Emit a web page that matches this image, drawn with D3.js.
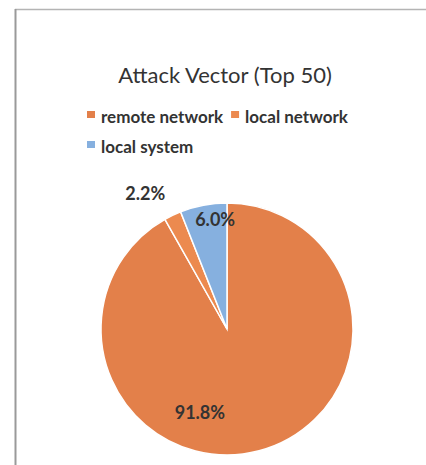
<!DOCTYPE html>
<html lang="en">
<head>
    <meta charset="UTF-8">
    <script src="https://cdn.jsdelivr.net/npm/d3@7"></script>
    <title>Attack Vector (Top 50)</title>
    <style>
        body { margin: 0; background: #ffffff; overflow: hidden; }
        svg { display: block; }
    </style>
</head>
<body>
    <div id="chart"></div>
    <script>
        // data
        const categories = ["remote network", "local network", "local system"];
        const shares = [91.8, 2.2, 6.0];
        const colors = ["#e3804a", "#ec8a4f", "#86b0df"];

        const w = 426, h = 465;
        const cx = 227, cy = 329, radius = 126;

        const svg = d3.select("#chart")
            .append("svg")
            .attr("width", w)
            .attr("height", h);

        // scanned frame edges
        svg.append("line")
            .attr("x1", 15).attr("x2", w)
            .attr("y1", 9.5).attr("y2", 9.5)
            .attr("stroke", "#b4b4b4").attr("stroke-width", 1.5);
        svg.append("line")
            .attr("x1", 15.5).attr("x2", 15.5)
            .attr("y1", 9).attr("y2", h)
            .attr("stroke", "#9a9a9a").attr("stroke-width", 2);

        // title
        svg.append("text")
            .attr("x", 225)
            .attr("y", 83)
            .attr("text-anchor", "middle")
            .attr("font-family", "Lato, sans-serif")
            .attr("font-size", "22px")
            .attr("fill", "#333333")
            .text("Attack Vector (Top 50)");

        // legend: two rows, items placed after the previous text
        const legendRows = [[0, 1], [2]];
        const legendY = [123, 153];
        legendRows.forEach((row, r) => {
            let x = 87;
            row.forEach(i => {
                svg.append("rect")
                    .attr("x", x).attr("y", legendY[r] - 12)
                    .attr("width", 8).attr("height", 7)
                    .attr("fill", colors[i]);
                const t = svg.append("text")
                    .attr("x", x + 14)
                    .attr("y", legendY[r])
                    .attr("font-family", "Lato, sans-serif")
                    .attr("font-weight", "bold")
                    .attr("font-size", "17px")
                    .attr("fill", "#333333")
                    .text(categories[i]);
                x += 14 + t.node().getComputedTextLength() + 8;
            });
        });

        // pie, clockwise from 12 o'clock
        const pie = d3.pie().sort(null).value(d => d);
        const arcs = pie(shares);
        const arc = d3.arc().innerRadius(0).outerRadius(radius);

        const g = svg.append("g")
            .attr("transform", `translate(${cx},${cy})`);

        g.selectAll("path")
            .data(arcs)
            .enter()
            .append("path")
            .attr("d", arc)
            .attr("fill", (d, i) => colors[i])
            .attr("stroke", "#ffffff")
            .attr("stroke-width", 1.5);

        // data labels (radius factor and angle shift mimic Excel's best fit)
        const labelR = [0.7, 1.25, 0.87];
        const labelShift = [0.57, -0.1, 0.08];
        g.selectAll("text.label")
            .data(arcs)
            .enter()
            .append("text")
            .attr("class", "label")
            .attr("x", (d, i) => Math.sin((d.startAngle + d.endAngle) / 2 + labelShift[i]) * radius * labelR[i])
            .attr("y", (d, i) => -Math.cos((d.startAngle + d.endAngle) / 2 + labelShift[i]) * radius * labelR[i] + 6)
            .attr("text-anchor", "middle")
            .attr("font-family", "Lato, sans-serif")
            .attr("font-weight", "bold")
            .attr("font-size", "18px")
            .attr("fill", "#333333")
            .text(d => d.data.toFixed(1) + "%");
    </script>
</body>
</html>
